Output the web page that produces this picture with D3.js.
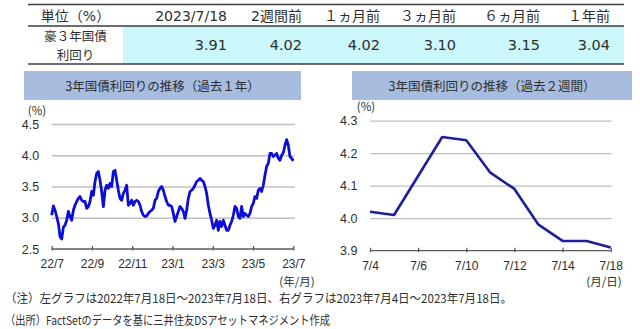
<!DOCTYPE html>
<html>
<head>
<meta charset="utf-8">
<script src="https://cdn.jsdelivr.net/npm/d3@7"></script>
<style>
  html, body { margin: 0; padding: 0; background: #ffffff; }
  svg { display: block; }
</style>
</head>
<body>
<svg id="chart" width="640" height="329"></svg>
<script>
// ---- Data ----
const tableHeaders = ["単位（%）", "2023/7/18", "2週間前", "１ヵ月前", "３ヵ月前", "６ヵ月前", "１年前"];
const tableRowLabel = ["豪３年国債", "利回り"];
const tableValues = [3.91, 4.02, 4.02, 3.10, 3.15, 3.04];

const leftTitle = "3年国債利回りの推移（過去１年）";
const rightTitle = "3年国債利回りの推移（過去２週間）";

// Australian 3-year government bond yield, 2022/7/18 - 2023/7/18 (%)
const yearValues = [
  3.04, 3.19, 3.12, 3.02, 2.91, 2.70, 2.66, 2.85, 2.88, 2.96,
  3.10, 3.02, 2.96, 3.12, 3.20, 3.26, 3.31, 3.34, 3.28, 3.26,
  3.26, 3.15, 3.18, 3.26, 3.42, 3.36, 3.58, 3.71, 3.74, 3.60,
  3.42, 3.18, 3.44, 3.52, 3.47, 3.55, 3.50, 3.74, 3.76, 3.60,
  3.44, 3.31, 3.28, 3.39, 3.44, 3.52, 3.20, 3.23, 3.28, 3.20,
  3.26, 3.28, 3.26, 3.20, 3.10, 3.04, 3.02, 3.03, 3.07, 3.10,
  3.12, 3.15, 3.28, 3.31, 3.42,
  3.47, 3.50, 3.44, 3.34, 3.26, 3.20, 3.20, 3.18, 3.07, 2.94,
  3.02, 3.10, 3.18, 3.15, 3.10, 2.99, 3.12, 3.31, 3.42, 3.44,
  3.47, 3.52, 3.58, 3.60, 3.63, 3.60, 3.58, 3.50, 3.39, 3.20,
  3.07, 2.96, 2.83, 2.88, 2.96, 2.80, 2.94, 2.86, 2.96, 2.88,
  2.80, 2.80, 2.88, 2.94, 3.04, 3.18, 3.15, 3.02, 2.99, 3.18,
  3.02, 3.07, 3.04, 3.02, 3.07, 3.18, 3.23, 3.34, 3.31, 3.44,
  3.47, 3.42, 3.52, 3.68, 3.82, 3.87, 4.03, 4.03, 3.98, 4.00,
  4.03, 3.95, 3.92, 4.00, 4.04, 4.16, 4.25, 4.16, 3.98, 3.95,
  3.91
];
const yearTicks = ["22/7", "22/9", "22/11", "23/1", "23/3", "23/5", "23/7"];
const yearYTicks = [2.5, 3.0, 3.5, 4.0, 4.5];

// Last two weeks (%)
const weekDates = ["7/4", "7/5", "7/6", "7/7", "7/10", "7/11", "7/12", "7/13", "7/14", "7/17", "7/18"];
const weekValues = [4.02, 4.01, 4.13, 4.25, 4.24, 4.14, 4.09, 3.98, 3.93, 3.93, 3.91];
const weekTicks = ["7/4", "7/6", "7/10", "7/12", "7/14", "7/18"];
const weekYTicks = [3.9, 4.0, 4.1, 4.2, 4.3];

const notes = [
  "（注）左グラフは2022年7月18日～2023年7月18日、右グラフは2023年7月4日～2023年7月18日。",
  "（出所）FactSetのデータを基に三井住友DSアセットマネジメント作成"
];

// ---- Styles ----
const latinFont = "'DejaVu Sans','Noto Sans CJK JP',sans-serif";
const jpFont = "'Noto Sans CJK JP',sans-serif";
const axisFont = "'Liberation Sans','Noto Sans CJK JP',sans-serif";
const textColor = "#2e2e2e";
const gridColor = "#c0c0c0";
const axisColor = "#5a5a5a";

const svg = d3.select("#chart");

// ---- Summary table ----
const table = { left: 28, right: 624, top: 4.5, mid: 26, bottom: 64, valueLeft: 123 };
const colRight = [null, 227, 302, 380, 456, 540, 610];
const firstColCenter = (table.left + table.valueLeft) / 2;

svg.append("rect")
  .attr("x", table.valueLeft).attr("y", table.mid)
  .attr("width", table.right - table.valueLeft).attr("height", table.bottom - table.mid)
  .attr("fill", "#cbf7fb");

[table.top, table.mid, table.bottom].forEach(y => {
  svg.append("line")
    .attr("x1", table.left).attr("x2", table.right)
    .attr("y1", y).attr("y2", y)
    .attr("stroke", "#3c3c3c").attr("stroke-width", 1.4);
});

svg.append("g").selectAll("text").data(tableHeaders).join("text")
  .attr("x", (d, i) => i === 0 ? firstColCenter : colRight[i])
  .attr("y", 20.5)
  .attr("text-anchor", (d, i) => i === 0 ? "middle" : "end")
  .attr("font-family", latinFont).attr("font-size", 14)
  .attr("fill", textColor)
  .text(d => d);

// Row label on two lines
svg.append("g").selectAll("text").data(tableRowLabel).join("text")
  .attr("x", firstColCenter)
  .attr("y", (d, i) => 41 + i * 18.5)
  .attr("text-anchor", "middle")
  .attr("font-family", jpFont).attr("font-size", 12.5)
  .attr("fill", textColor)
  .text(d => d);

svg.append("g").selectAll("text").data(tableValues).join("text")
  .attr("x", (d, i) => colRight[i + 1])
  .attr("y", 50)
  .attr("text-anchor", "end")
  .attr("font-family", latinFont).attr("font-size", 14.5)
  .attr("fill", textColor)
  .text(d => d3.format(".2f")(d));

// ---- Chart title boxes ----
function titleBox(x, w, label) {
  svg.append("rect")
    .attr("x", x).attr("y", 71).attr("width", w).attr("height", 29)
    .attr("fill", "#a7bde0");
  svg.append("text")
    .attr("x", x + w / 2).attr("y", 90.5)
    .attr("text-anchor", "middle")
    .attr("font-family", jpFont).attr("font-size", 12.5)
    .attr("fill", textColor)
    .text(label);
}
titleBox(24, 277, leftTitle);
titleBox(352, 280, rightTitle);

// ---- Shared helpers ----
function drawYAxis(yScale, ticks, x0, x1, fmt) {
  const g = svg.append("g").attr("transform", `translate(${x0},0)`)
    .call(d3.axisLeft(yScale).tickValues(ticks).tickSize(-(x1 - x0)).tickPadding(12.5).tickFormat(d3.format(fmt)));
  g.select(".domain").remove();
  g.selectAll(".tick line")
    .attr("stroke", gridColor).attr("stroke-width", 1.3)
    .attr("display", d => d === ticks[0] ? "none" : null);
  g.selectAll(".tick text")
    .attr("font-family", axisFont).attr("font-size", 12.5)
    .attr("fill", textColor);
}

function drawXAxis(axis, y, x0, x1) {
  svg.append("line")
    .attr("x1", x0).attr("x2", x1).attr("y1", y).attr("y2", y)
    .attr("stroke", axisColor).attr("stroke-width", 1.3);
  const g = svg.append("g").attr("transform", `translate(0,${y - 3})`)
    .call(axis.tickSizeInner(4.5).tickSizeOuter(0).tickPadding(9));
  g.select(".domain").remove();
  g.selectAll(".tick line").attr("stroke", axisColor).attr("stroke-width", 1.3);
  g.selectAll(".tick text")
    .attr("font-family", axisFont).attr("font-size", 12)
    .attr("fill", textColor);
}

function smallLabel(x, y, text, anchor) {
  svg.append("text")
    .attr("x", x).attr("y", y)
    .attr("text-anchor", anchor || "middle")
    .attr("font-family", jpFont).attr("font-size", 11.5)
    .attr("fill", textColor)
    .text(text);
}

// ---- Left chart: past year ----
const xL = d3.scaleLinear().domain([0, yearValues.length - 1]).range([51.7, 293.3]);
const yL = d3.scaleLinear().domain([2.5, 4.5]).range([249, 124]);

drawYAxis(yL, yearYTicks, 51.7, 295, ".1f");
const stepL = (yearValues.length - 1) / (yearTicks.length - 1);
drawXAxis(
  d3.axisBottom(xL).tickValues(yearTicks.map((t, i) => i * stepL)).tickFormat((d, i) => yearTicks[i]),
  yL(2.5), xL(0), xL(yearValues.length - 1)
);
smallLabel(37, 115, "(%)");
smallLabel(297, 286, "(年/月)");

svg.append("path")
  .datum(yearValues)
  .attr("fill", "none")
  .attr("stroke", "#0d0dd6")
  .attr("stroke-width", 2.8)
  .attr("stroke-linejoin", "round")
  .attr("d", d3.line().x((d, i) => xL(i)).y(d => yL(d)));

// ---- Right chart: past two weeks ----
const xR = d3.scalePoint().domain(weekDates).range([370, 610.7]);
const yR = d3.scaleLinear().domain([3.9, 4.3]).range([250.7, 120.7]);

drawYAxis(yR, weekYTicks, 370, 611.7, ".1f");
drawXAxis(d3.axisBottom(xR).tickValues(weekTicks), yR(3.9), 370, 610.7);
smallLabel(366, 111, "(%)");
smallLabel(604, 286, "(月/日)");

svg.append("path")
  .datum(weekValues)
  .attr("fill", "none")
  .attr("stroke", "#1f1f9e")
  .attr("stroke-width", 2.6)
  .attr("stroke-linejoin", "round")
  .attr("d", d3.line().x((d, i) => xR(weekDates[i])).y(d => yR(d)));

// ---- Footnotes ----
const noteWidths = [507, 325];
svg.append("g").selectAll("text").data(notes).join("text")
  .attr("x", 5)
  .attr("y", (d, i) => 302.5 + i * 22)
  .attr("font-family", jpFont).attr("font-size", 12)
  .attr("fill", textColor)
  .attr("textLength", (d, i) => noteWidths[i])
  .attr("lengthAdjust", "spacingAndGlyphs")
  .text(d => d);
</script>
</body>
</html>
